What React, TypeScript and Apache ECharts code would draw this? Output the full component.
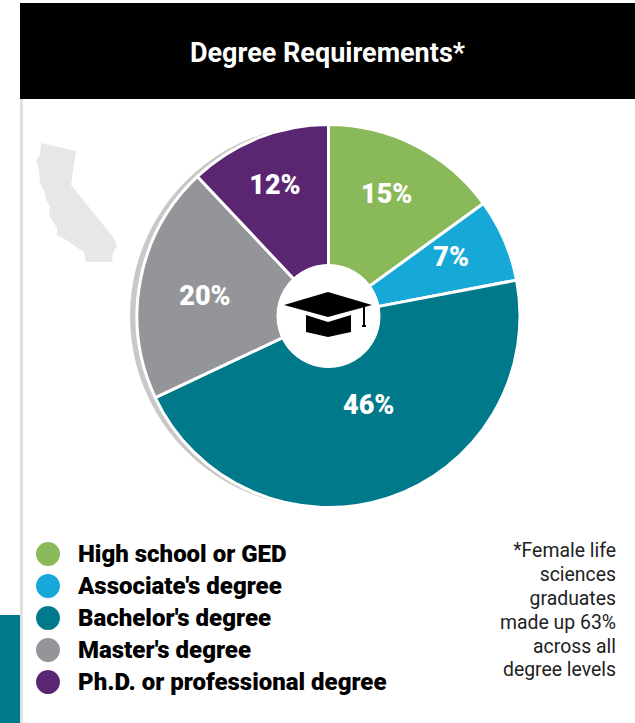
import React, { useEffect, useRef } from "react";
import * as echarts from "echarts";

const categories = [
  "High school or GED",
  "Associate's degree",
  "Bachelor's degree",
  "Master's degree",
  "Ph.D. or professional degree",
];
const values = [15, 7, 46, 20, 12];
const colors = ["#8ab95a", "#16a9d7", "#007a8a", "#939598", "#5b2671"];
const titleText = "Degree Requirements*";
const footnoteLines = [
  "*Female life",
  "sciences",
  "graduates",
  "made up 63%",
  "across all",
  "degree levels",
];

const labelNudges = [
  [2, -12],
  [9, -10],
  [2, -29],
  [-2, 3],
  [-8, -16],
];

const californiaOutline = [
  [41, 143], [76, 151], [71, 185], [113, 237], [117, 246], [113, 252], [112, 262],
  [86, 262], [84, 252], [76, 247], [68, 241], [57, 235], [57, 228], [49, 215],
  [50, 207], [46, 200], [45, 193], [40, 183], [39, 170], [36, 160], [40, 155],
];
const capBoard = [[328, 292], [372, 305], [328, 317], [284, 305]];
const capBase = [[306, 315], [328, 322], [351, 315], [351, 332], [328, 337], [306, 332]];

const FONT = "Roboto, 'Noto Sans', sans-serif";

export default function App() {
  const ref = useRef<HTMLDivElement>(null);
  useEffect(() => {
    if (!ref.current) return;
    const chart = echarts.init(ref.current, undefined, { renderer: "svg" });
    const cx = 328.5;
    const cy = 316;
    const poly = (points: number[][], fill: string, z: number) => ({
      type: "polygon",
      z,
      silent: true,
      shape: { points },
      style: { fill },
    });
    chart.setOption({
      animation: false,
      backgroundColor: "#ffffff",
      title: {
        text: titleText,
        left: 322.5,
        top: 33,
        textAlign: "center",
        textStyle: { color: "#ffffff", fontFamily: FONT, fontWeight: 700, fontSize: 27, lineHeight: 30 },
        z: 20,
      },
      legend: {
        orient: "vertical",
        left: 31,
        top: 537,
        itemWidth: 24,
        itemHeight: 24,
        itemGap: 8,
        icon: "circle",
        selectedMode: false,
        data: categories,
        itemStyle: { borderWidth: 0 },
        textStyle: {
          color: "#000000",
          fontFamily: FONT,
          fontWeight: 900,
          fontSize: 24,
          lineHeight: 24,
          padding: [0, 0, 0, 13],
        },
      },
      graphic: {
        elements: [
          { type: "rect", z: 0, silent: true, shape: { x: 20, y: 3, width: 615, height: 96 }, style: { fill: "#000000" } },
          { type: "rect", z: 0, silent: true, shape: { x: 20, y: 99, width: 3, height: 624 }, style: { fill: "#e0e0e0" } },
          { type: "rect", z: 0, silent: true, shape: { x: 0, y: 615, width: 20, height: 108 }, style: { fill: "#007a8a" } },
          poly(californiaOutline, "#e6e7e8", 0),
          { type: "circle", z: 0, silent: true, shape: { cx: 321, cy, r: 191 }, style: { fill: "#c8c8c8" } },
          { type: "circle", z: 1, silent: true, shape: { cx, cy, r: 192.5 }, style: { fill: "#ffffff" } },
          { type: "circle", z: 5, silent: true, shape: { cx, cy, r: 52 }, style: { fill: "#ffffff" } },
          poly(capBoard, "#000000", 6),
          poly(capBase, "#000000", 6),
          { type: "rect", z: 6, silent: true, shape: { x: 363, y: 306, width: 2, height: 20 }, style: { fill: "#000000" } },
          { type: "rect", z: 6, silent: true, shape: { x: 362, y: 325, width: 4, height: 2 }, style: { fill: "#000000" } },
          {
            type: "text",
            z: 6,
            silent: true,
            x: 616,
            y: 539,
            style: {
              text: footnoteLines.join("\n"),
              align: "right",
              verticalAlign: "top",
              fill: "#222222",
              fontFamily: FONT,
              fontSize: 19.4,
              lineHeight: 23.8,
            },
          },
        ],
      },
      series: [
        {
          type: "pie",
          z: 2,
          silent: true,
          center: [cx, cy],
          radius: [50, 191.5],
          startAngle: 90,
          clockwise: true,
          avoidLabelOverlap: false,
          data: categories.map((name, i) => ({ name, value: values[i], itemStyle: { color: colors[i] } })),
          itemStyle: { borderColor: "#ffffff", borderWidth: 3 },
          label: {
            show: true,
            position: "inside",
            formatter: (p: { value: number }) => `${p.value}%`,
            color: "#ffffff",
            fontFamily: FONT,
            fontWeight: 900,
            fontSize: 27,
          },
          labelLine: { show: false },
          labelLayout: (p: { dataIndex: number }) => ({
            dx: labelNudges[p.dataIndex][0],
            dy: labelNudges[p.dataIndex][1],
          }),
        },
      ],
    });
    return () => chart.dispose();
  }, []);
  return <div ref={ref} style={{ position: "fixed", left: 0, top: 0, width: 635, height: 723 }} />;
}
